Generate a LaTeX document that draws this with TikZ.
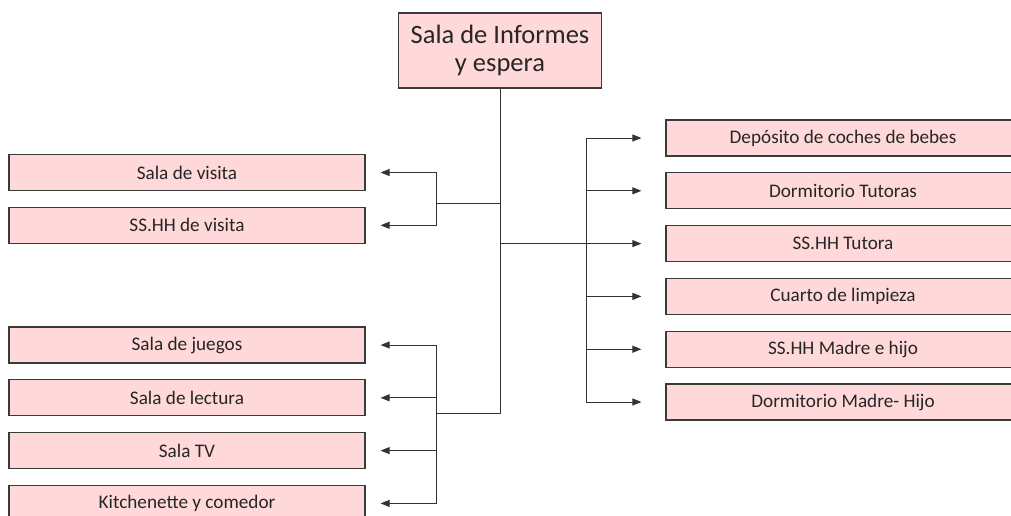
\documentclass[tikz,border=0pt]{standalone}
\usepackage{fontspec}
\setmainfont{Carlito}
\usepackage{xcolor}
\usetikzlibrary{arrows.meta,positioning}
\definecolor{roompink}{HTML}{FFD9D9}
\definecolor{roomedge}{HTML}{3A3A3A}
\tikzset{
  room/.style={
    draw=roomedge,
    line width=1.2pt,
    fill=roompink,
    align=center,
    minimum height=36pt,
    minimum width=356pt,
    inner sep=2pt,
    text=black!85,
    font=\fontsize{19.2}{22}\selectfont
  },
  titlebox/.style={
    room,
    minimum height=75pt,
    minimum width=203pt,
    font=\fontsize{26.5}{28.5}\selectfont
  },
  line/.style={draw=black!80, line width=1pt},
  arrow/.style={line, -{Triangle[length=9pt,width=7pt]}}
}

\begin{document}
\begin{tikzpicture}[x=1pt, y=-1pt, node distance=15.6pt]
\clip (0,0) rectangle (1011,515);

% central room
\node[titlebox] (info) at (500,50.5) {Sala de Informes\\y espera};

% left, upper group
\node[room] (visita) at (187,172.5) {Sala de visita};
\node[room, below=of visita] (sshhv) {SS.HH de visita};

% left, lower group
\node[room] (juegos) at (187,345) {Sala de juegos};
\node[room, below=of juegos] (lectura) {Sala de lectura};
\node[room, below=of lectura] (tv) {Sala TV};
\node[room, below=of tv] (kitchen) {Kitchenette y comedor};

% right group
\node[room, minimum width=354pt] (deposito) at (843,138) {Depósito de coches de bebes};
\node[room, minimum width=354pt, below=of deposito] (dtutoras) {Dormitorio Tutoras};
\node[room, minimum width=354pt, below=of dtutoras] (sshht) {SS.HH Tutora};
\node[room, minimum width=354pt, below=of sshht] (limpieza) {Cuarto de limpieza};
\node[room, minimum width=354pt, below=of limpieza] (sshhm) {SS.HH Madre e hijo};
\node[room, minimum width=354pt, below=of sshhm] (dmadre) {Dormitorio Madre- Hijo};

% junctions
\coordinate (jup) at (436,203);
\coordinate (jlow) at (436,413);
\coordinate (jright) at (586,242);

% trunk
\draw[line] (info.south) |- (jlow);
\draw[line] (jup) -- (jup -| info.south);

% left, upper branch
\draw[arrow, shorten >=15pt] (jup) |- (visita.east);
\draw[arrow, shorten >=15pt] (jup) |- (sshhv.east);

% left, lower branch
\draw[arrow, shorten >=15pt] (jlow) |- (juegos.east);
\draw[arrow, shorten >=15pt] (jlow) |- (lectura.east);
\draw[arrow, shorten >=15pt] (jlow) |- (tv.east);
\draw[arrow, shorten >=15pt] (jlow) |- (kitchen.east);

% right branch
\draw[arrow, shorten >=24pt] (info.south |- sshht.west) -- (sshht.west);
\draw[line] (jright |- deposito.west) -- (jright |- dmadre.west);
\draw[arrow, shorten >=24pt] (jright |- deposito.west) -- (deposito.west);
\draw[arrow, shorten >=24pt] (jright |- dtutoras.west) -- (dtutoras.west);
\draw[arrow, shorten >=24pt] (jright |- limpieza.west) -- (limpieza.west);
\draw[arrow, shorten >=24pt] (jright |- sshhm.west) -- (sshhm.west);
\draw[arrow, shorten >=24pt] (jright |- dmadre.west) -- (dmadre.west);
\end{tikzpicture}
\end{document}
